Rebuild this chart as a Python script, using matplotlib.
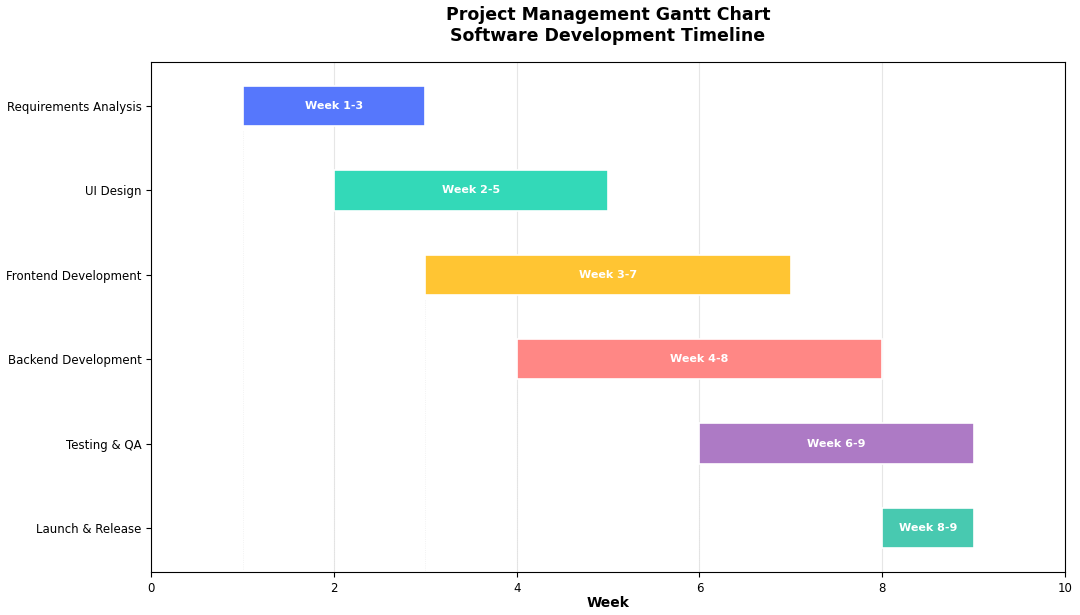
import matplotlib.pyplot as plt

tasks = ['Requirements Analysis', 'UI Design', 'Frontend Development',
         'Backend Development', 'Testing & QA', 'Launch & Release']
start_week = [1, 2, 3, 4, 6, 8]
end_week = [3, 5, 7, 8, 9, 9]
colors = ['#5677FC', '#33D9B8', '#FFC533', '#FF8785', '#AD7AC5', '#48C9B0']

fig, ax = plt.subplots(figsize=(10.8, 6.15), dpi=100)
fig.subplots_adjust(left=0.14, right=0.986, top=0.899, bottom=0.07)

for i, (t, s, e, c) in enumerate(zip(tasks, start_week, end_week, colors)):
    ax.barh(i, e - s, left=s, height=0.48, color=c, edgecolor='white',
            linewidth=1.2, zorder=3)
    ax.text((s + e) / 2, i, f'Week {s}-{e}', ha='center', va='center',
            color='white', fontweight='bold', fontsize=8, zorder=4)

# faint dependency guides
for i in range(1, len(tasks)):
    ax.vlines(start_week[i - 1], i - 1 + 0.3, len(tasks) - 0.5, colors='#dddddd',
              linestyles=':', linewidth=0.6, alpha=0.5, zorder=1)

ax.set_yticks(range(len(tasks)))
ax.set_yticklabels(tasks, fontsize=8.5)
ax.set_ylim(5.52, -0.52)
ax.set_xlim(0, 10)
ax.set_xticks([0, 2, 4, 6, 8, 10])
ax.tick_params(axis='x', labelsize=8.5)
ax.grid(axis='x', color='#e6e6e6', linewidth=0.8, zorder=0)
ax.set_axisbelow(True)
ax.set_xlabel('Week', fontsize=10, fontweight='bold', labelpad=1)
ax.set_title('Project Management Gantt Chart\nSoftware Development Timeline',
             fontsize=12.5, fontweight='bold', pad=15)

fig.savefig('out.png', dpi=100)
